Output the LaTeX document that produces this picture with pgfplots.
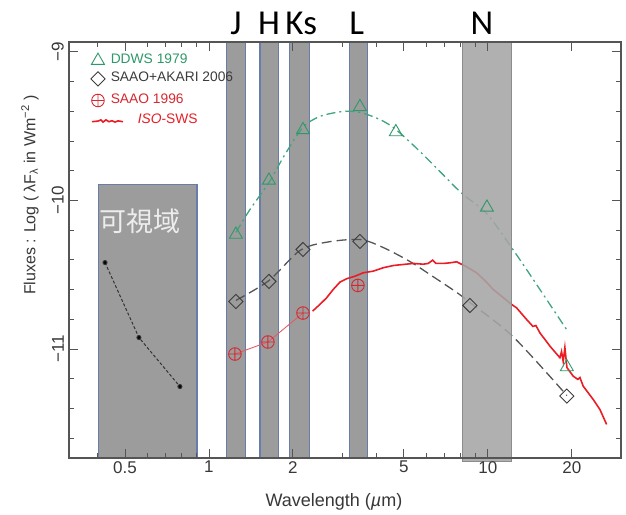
\documentclass[border=0pt]{standalone}
\usepackage{fontspec}
\setmainfont{Liberation Sans}
\newfontfamily\bandfont{Carlito}
\newfontfamily\cjk{Noto Sans CJK JP}
\usepackage{pgfplots}
\pgfplotsset{compat=1.18}
\definecolor{ddws}{RGB}{46,152,106}
\definecolor{ddwsline}{RGB}{64,164,124}
\definecolor{saaoak}{RGB}{60,60,60}
\definecolor{saaoakline}{RGB}{85,85,85}
\definecolor{isored}{RGB}{234,28,36}
\definecolor{saaored}{RGB}{214,40,48}
\definecolor{bandgray}{RGB}{156,156,156}
\definecolor{nband}{RGB}{165,165,165}
\definecolor{bandedge}{RGB}{105,125,170}
\definecolor{framecol}{RGB}{85,85,85}
\begin{document}
\begin{tikzpicture}
\useasboundingbox (0,0) rectangle (626pt,514pt);
\begin{axis}[
  at={(69pt,56pt)}, anchor=south west,
  scale only axis, width=552pt, height=416pt,
  xmode=log, xmin=0.315, xmax=30, ymin=-11.734, ymax=-8.933,
  clip=false, axis on top,
  axis line style={draw=framecol, line width=1.1pt},
  every tick/.style={framecol, line width=0.9pt},
  major tick length=9pt, minor tick length=5pt,
  xtick={0.5,1,2,5,10,20},
  xticklabels={0.5,1,2,5,10,20},
  minor xtick={0.4,0.6,0.7,0.8,0.9,3,4,6,7,8,9,30},
  ytick={-11,-10,-9},
  yticklabels={−11,−10,−9},
  minor ytick={-11.6,-11.4,-11.2,-10.8,-10.6,-10.4,-10.2,-9.8,-9.6,-9.4,-9.2},
  tick label style={font=\fontsize{17}{17}\selectfont, text=black!78},
  /pgf/number format/assume math mode=true,
  yticklabel style={rotate=90, anchor=south, inner sep=5pt},
  xticklabel style={inner sep=3pt},
  xlabel={Wavelength (\textit{µ}m)},
  xlabel style={at={(axis description cs:0.48,-0.106)}, anchor=center, font=\fontsize{18}{18}\selectfont, text=black!78},
  ylabel={Fluxes : Log ( λF\textsubscript{λ} in Wm\textsuperscript{−2} )},
  ylabel style={at={(axis description cs:-0.0707,0.632)}, anchor=center, rotate=0, font=\fontsize{16}{16}\selectfont, text=black!78},
  legend style={at={(axis description cs:0.038,0.975)}, anchor=north west, draw=none, fill=none,
    inner sep=0pt, row sep=6.5pt, font=\fontsize{13.8}{14}\selectfont,
    nodes={inner sep=1pt, text depth=0pt},
    /tikz/every odd column/.append style={column sep=4pt}},
  legend cell align=left,
  legend image code/.code={\path (-7pt,-2pt) (7pt,-2pt); \draw[#1] plot coordinates {(0pt,-2.2pt)};},
]
% visible region box
\filldraw[fill=bandgray, draw=bandedge, line width=1.1pt] (axis cs:0.403,-11.734) rectangle (axis cs:0.906,-9.892);
% J H Ks L bands
\filldraw[fill=bandgray, draw=bandedge, line width=1.1pt] (axis cs:1.16,-11.734) rectangle (axis cs:1.357,-8.933);
\filldraw[fill=bandgray, draw=bandedge, line width=1.1pt] (axis cs:1.524,-11.734) rectangle (axis cs:1.782,-8.933);
\filldraw[fill=bandgray, draw=bandedge, line width=1.1pt] (axis cs:1.95,-11.734) rectangle (axis cs:2.30,-8.933);
\filldraw[fill=bandgray, draw=bandedge, line width=1.1pt] (axis cs:3.20,-11.734) rectangle (axis cs:3.71,-8.933);
\node[text=white!93!black, font=\cjk\fontsize{27}{27}\selectfont] at (axis cs:0.566,-10.141) {可視域};

% DDWS curve
\addplot[ddwsline, line width=1.3pt, smooth, dash pattern=on 9pt off 4pt on 2pt off 4pt, forget plot] coordinates {
(1.249,-10.215) (1.403,-10.061) (1.641,-9.879) (1.873,-9.690) (2.173,-9.508) (2.500,-9.434) (3.021,-9.401) (3.477,-9.407) (4.10,-9.455) (4.678,-9.522) (5.704,-9.670) (6.729,-9.805) (8.07,-9.953) (9.918,-10.09) (12.29,-10.33) (15.36,-10.599) (19.35,-10.882)};
% SAAO+AKARI curve
\addplot[saaoakline, line width=1.3pt, smooth, dash pattern=on 10pt off 5pt, forget plot] coordinates {
(1.249,-10.673) (1.641,-10.539) (2.119,-10.337) (2.642,-10.281) (3.477,-10.263) (4.205,-10.316) (5.253,-10.411) (6.352,-10.512) (7.742,-10.620) (8.62,-10.687) (12.29,-10.916) (19.19,-11.313)};
% SAAO 1996 connecting line
\addplot[saaored!75!white, line width=0.9pt, forget plot] coordinates {
(1.239,-11.034) (1.627,-10.953) (2.173,-10.758)};
% visible points
\addplot[black!80, line width=1pt, dash pattern=on 3pt off 2pt, mark=*, mark size=2pt, mark options={solid, fill=black}, forget plot] coordinates {
(0.424,-10.418) (0.561,-10.923) (0.787,-11.253)};

% markers with legend
\addplot[only marks, ddws, mark=triangle, mark size=7.5pt, mark options={line width=0.9pt}] coordinates {
(1.249,-10.229) (1.641,-9.865) (2.173,-9.525) (3.477,-9.370) (4.678,-9.539) (9.918,-10.047) (19.19,-11.121)};
\addlegendentry{\textcolor{ddws}{DDWS 1979}}
\addplot[only marks, saaoak, mark=square, mark size=5pt, mark options={rotate=45, line width=0.9pt}] coordinates {
(1.249,-10.680) (1.641,-10.545) (2.173,-10.330) (3.477,-10.276) (8.62,-10.707) (19.19,-11.317)};
\addlegendentry{\textcolor{saaoak}{SAAO+AKARI 2006}}
\addplot[only marks, saaored, mark=oplus, mark size=6.3pt, mark options={line width=0.9pt}] coordinates {
(1.239,-11.034) (1.627,-10.953) (2.173,-10.758) (3.420,-10.572)};
\addlegendentry{\textcolor{saaored}{SAAO 1996}}
\addplot[isored, line width=1.6pt,
  legend image code/.code={\path (-7pt,-2pt) (7pt,-2pt);
    \draw[overlay, isored, line width=1.6pt] (-6pt,-2.6pt) -- (0pt,-2pt) -- (3pt,-0.8pt) -- (5pt,-3pt) -- (8pt,-0.8pt) -- (11pt,-2.6pt) -- (14pt,-1.6pt) -- (17pt,-3pt) -- (20pt,-1.8pt) -- (25pt,-2.6pt);}] coordinates {
(2.353,-10.745) (2.499,-10.700) (2.642,-10.655) (2.790,-10.599) (2.948,-10.550) (3.115,-10.527) (3.337,-10.510) (3.573,-10.487) (3.880,-10.476) (4.215,-10.453) (4.578,-10.438) (4.971,-10.431) (5.399,-10.424) (5.864,-10.429) (6.109,-10.424) (6.337,-10.402) (6.512,-10.424) (6.917,-10.424) (7.307,-10.420) (7.723,-10.413) (7.937,-10.424) (8.341,-10.444) (9.110,-10.487) (9.755,-10.539) (10.446,-10.599) (11.22,-10.646) (12.16,-10.700) (12.67,-10.723) (13.76,-10.801) (14.50,-10.848) (14.86,-10.842) (15.36,-10.891) (16.69,-10.981) (18.12,-11.059) (18.37,-11.017) (18.62,-11.084) (18.88,-10.990) (19.20,-11.125) (20.22,-11.183) (21.02,-11.205) (21.37,-11.192) (21.96,-11.250) (23.85,-11.340) (25.20,-11.407) (26.64,-11.508)};
\addlegendentry{\hspace*{27pt}\textcolor{isored}{\textit{ISO}-SWS}}

% N band on top
\filldraw[fill=nband, draw=black!45, line width=0.8pt, fill opacity=0.88] (axis cs:8.07,-11.755) rectangle (axis cs:12.19,-8.933);

% band labels
\node[anchor=base, font=\bandfont\fontsize{35}{35}\selectfont, yshift=7pt] at (axis cs:1.249,-8.933) {J};
\node[anchor=base, font=\bandfont\fontsize{35}{35}\selectfont, yshift=7pt] at (axis cs:1.641,-8.933) {H};
\node[anchor=base, font=\bandfont\fontsize{35}{35}\selectfont, yshift=7pt] at (axis cs:2.140,-8.933) {Ks};
\node[anchor=base, font=\bandfont\fontsize{35}{35}\selectfont, yshift=7pt] at (axis cs:3.39,-8.933) {L};
\node[anchor=base, font=\bandfont\fontsize{35}{35}\selectfont, yshift=7pt] at (axis cs:9.52,-8.933) {N};
\end{axis}
\end{tikzpicture}
\end{document}
